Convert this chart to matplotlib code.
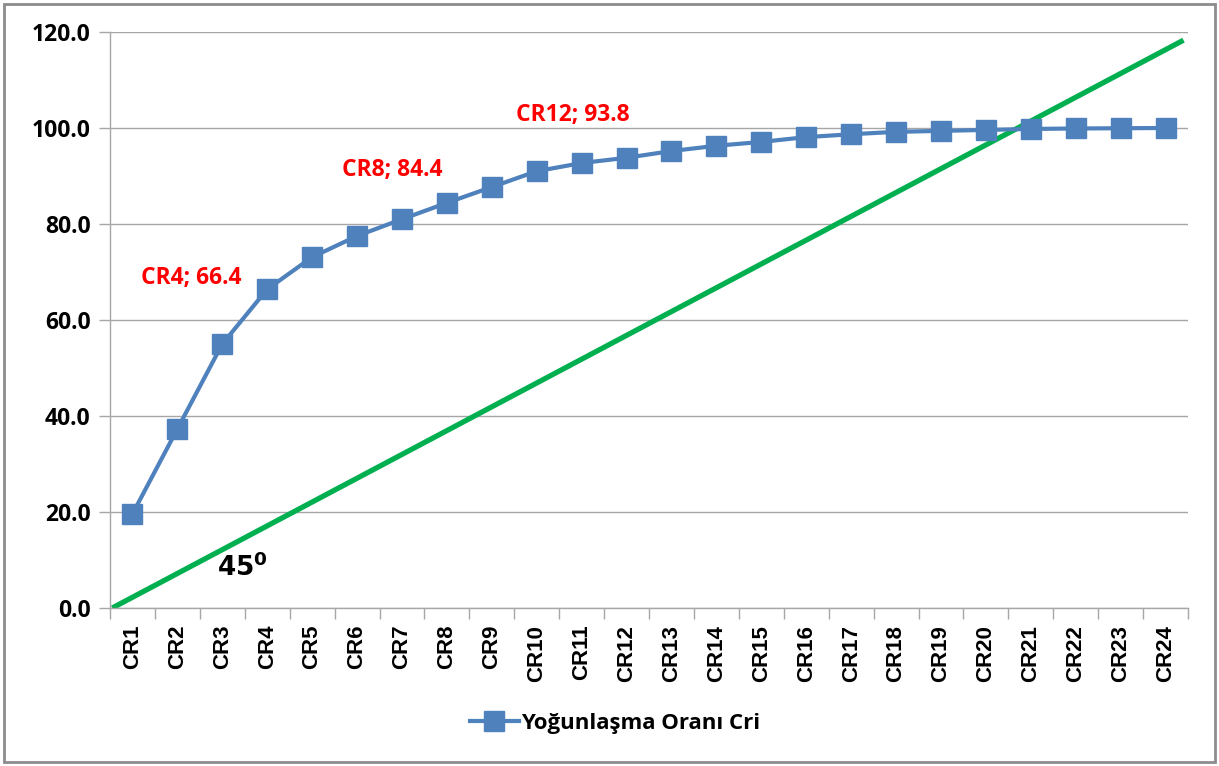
import numpy as np
import matplotlib.pyplot as plt
from matplotlib.patches import Rectangle

categories = [f"CR{i}" for i in range(1, 25)]
cr_values = [19.6, 37.3, 55.0, 66.4, 73.1, 77.5, 81.0, 84.4, 87.7, 91.0, 92.7, 93.8,
             95.2, 96.3, 97.1, 98.1, 98.7, 99.2, 99.4, 99.6, 99.8, 99.9, 99.95, 100.0]
labelled = [3, 7, 11]
label_offsets = [(-55, 8), (-39, 24), (-39, 31)]

# reference 45 degree line, in category index / percent units
diag_x = [-0.45, 23.4]
diag_y = [0.0, 118.3]

BLUE = "#4F81BD"
GREEN = "#00B050"
GRID = "#A6A6A6"
TEXT_FONT = ["Open Sans", "DejaVu Sans"]

fig = plt.figure(figsize=(12.19, 7.66), dpi=100)
ax = fig.add_axes([110 / 1219, 158 / 766, 1078 / 1219, 576 / 766])

x = np.arange(len(categories))
ax.plot(diag_x, diag_y, color=GREEN, lw=3.8, solid_capstyle="butt", zorder=2)
ax.plot(x, cr_values, color=BLUE, lw=3, marker="s", ms=14,
        label="Yoğunlaşma Oranı Cri", zorder=3)

for i, (dx, dy) in zip(labelled, label_offsets):
    ax.annotate(f"{categories[i]}; {cr_values[i]}", (x[i], cr_values[i]),
                xytext=(dx, dy), textcoords="offset points", ha="center", va="center",
                color="red", fontsize=16.5, fontweight="bold", family=TEXT_FONT)

ax.text(2.45, 8.3, r"$\mathbf{45^0}$", fontsize=19, ha="center", va="center")

ax.set_xlim(-0.5, 23.5)
ax.set_ylim(0, 120)
ax.set_yticks(np.arange(0, 121, 20))
ax.set_yticklabels([f"{v:.1f}" for v in np.arange(0, 121, 20)],
                   fontsize=16.5, fontweight="bold", family=TEXT_FONT)
ax.set_xticks(x)
ax.set_xticklabels(categories, rotation=90, fontsize=16, fontweight="bold",
                   family="Liberation Sans")
ax.set_xticks(np.arange(-0.5, 24, 1), minor=True)
ax.tick_params(axis="x", which="major", length=0, pad=12)
ax.tick_params(axis="x", which="minor", length=8, color=GRID, width=1)
ax.tick_params(axis="y", length=8, color=GRID, width=1, pad=6)

ax.grid(axis="y", color=GRID, lw=1)
ax.set_axisbelow(True)
for side in ["top", "right"]:
    ax.spines[side].set_visible(False)
for side in ["left", "bottom"]:
    ax.spines[side].set_color(GRID)
    ax.spines[side].set_linewidth(1)

fig.legend(loc="center", bbox_to_anchor=(615 / 1219, 1 - 723 / 766), frameon=False,
           prop={"family": TEXT_FONT, "weight": "bold", "size": 16},
           handlelength=2.2, handletextpad=0.1)

# outer chart border
fig.patches.append(Rectangle((4 / 1219, 4 / 766), 1211 / 1219, 758 / 766,
                             transform=fig.transFigure, fill=False,
                             edgecolor="#8C8C8C", lw=2))

fig.savefig("out.png", dpi=100)
